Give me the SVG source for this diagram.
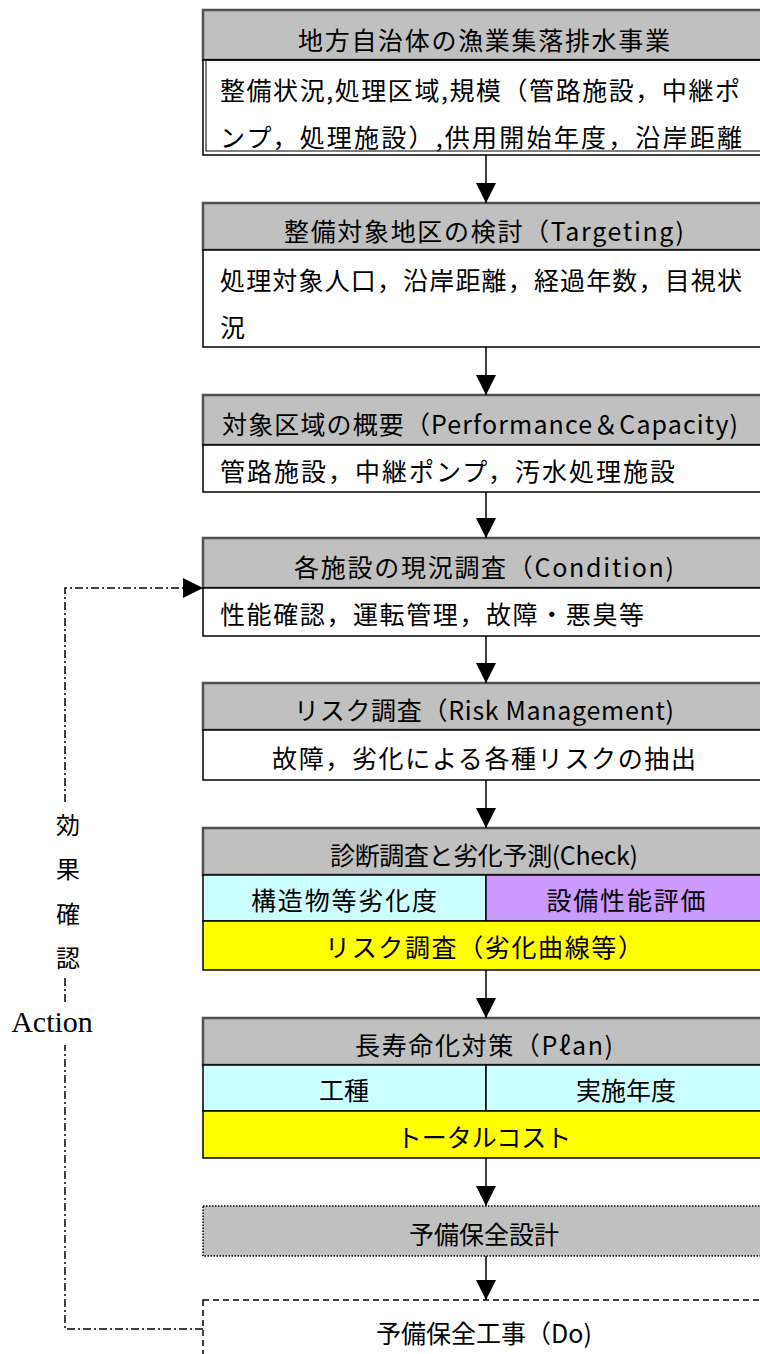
<svg xmlns="http://www.w3.org/2000/svg" width="760" height="1354" viewBox="0 0 760 1354">
<defs>
<style>
.t{font-family:"Noto Sans CJK JP","Noto Sans",sans-serif;font-size:25px;fill:#000;dominant-baseline:central}
.c{text-anchor:middle}
.hd{fill:#c0c0c0;stroke:#505050;stroke-width:2.5}
.bd{fill:#fff;stroke:#000;stroke-width:1.5}
.cy{fill:#ccffff;stroke:#000;stroke-width:1.5}
.pu{fill:#cc99ff;stroke:#000;stroke-width:1.5}
.ye{fill:#ffff00;stroke:#000;stroke-width:1.5}
.ln{stroke:#000;stroke-width:1.5;fill:none}
.fb{stroke:#000;stroke-width:1.5;fill:none;stroke-dasharray:8,3,2,3}
.s{font-family:"Liberation Serif","Noto Sans CJK JP",serif;fill:#000;dominant-baseline:central;text-anchor:middle}
</style>
<marker id="ah" viewBox="0 0 20 20" refX="20" refY="10" markerWidth="20" markerHeight="20" markerUnits="userSpaceOnUse" orient="auto">
<path d="M0,0 L20,10 L0,20 Z" fill="#000"/>
</marker>
</defs>

<g id="n1">
<rect class="hd" x="203" y="10" width="563" height="50"/>
<rect class="bd" x="203" y="60" width="563" height="95"/>
<rect x="206" y="60" width="560" height="91" fill="none" stroke="#000" stroke-width="1"/>
<text class="t c" x="484" y="39" textLength="372">地方自治体の漁業集落排水事業</text>
<text class="t" x="220" y="89" textLength="520">整備状況,処理区域,規模（管路施設，中継ポ</text>
<text class="t" x="220" y="136" textLength="522">ンプ，処理施設）,供用開始年度，沿岸距離</text>
</g>

<g id="n2">
<rect class="hd" x="203" y="203" width="563" height="47"/>
<rect class="bd" x="203" y="250" width="563" height="97"/>
<text class="t c" x="484" y="230" textLength="400">整備対象地区の検討（Targeting)</text>
<text class="t" x="220" y="279" textLength="522">処理対象人口，沿岸距離，経過年数，目視状</text>
<text class="t" x="220" y="326">況</text>
</g>

<g id="n3">
<rect class="hd" x="203" y="395" width="563" height="50"/>
<rect class="bd" x="203" y="445" width="563" height="47"/>
<text class="t" x="222" y="423" textLength="516">対象区域の概要（Performance＆Capacity)</text>
<text class="t" x="220" y="470" textLength="455">管路施設，中継ポンプ，汚水処理施設</text>
</g>

<g id="n4">
<rect class="hd" x="203" y="538" width="563" height="50"/>
<rect class="bd" x="203" y="588" width="563" height="48"/>
<text class="t c" x="484" y="566" textLength="380">各施設の現況調査（Condition)</text>
<text class="t" x="220" y="613" textLength="424">性能確認，運転管理，故障・悪臭等</text>
</g>

<g id="n5">
<rect class="hd" x="203" y="683" width="563" height="47"/>
<rect class="bd" x="203" y="730" width="563" height="50"/>
<text class="t c" x="484" y="709" textLength="380">リスク調査（Risk Management)</text>
<text class="t c" x="484" y="757" textLength="424">故障，劣化による各種リスクの抽出</text>
</g>

<g id="n6">
<rect class="hd" x="203" y="828" width="563" height="47"/>
<rect class="cy" x="203" y="875" width="283" height="46"/>
<rect class="pu" x="486" y="875" width="280" height="46"/>
<rect class="ye" x="203" y="921" width="563" height="49"/>
<text class="t c" x="484" y="854" textLength="308">診断調査と劣化予測(Check)</text>
<text class="t c" x="344" y="899" textLength="186">構造物等劣化度</text>
<text class="t c" x="626" y="899" textLength="159">設備性能評価</text>
<text class="t c" x="484" y="946" textLength="318">リスク調査（劣化曲線等）</text>
</g>

<g id="n7">
<rect class="hd" x="203" y="1018" width="563" height="47"/>
<rect class="cy" x="203" y="1065" width="283" height="46"/>
<rect class="cy" x="486" y="1065" width="280" height="46"/>
<rect class="ye" x="203" y="1111" width="563" height="47"/>
<text class="t c" x="484" y="1044" textLength="258">長寿命化対策（Pℓan)</text>
<text class="t c" x="344" y="1089">工種</text>
<text class="t c" x="626" y="1089">実施年度</text>
<text class="t c" x="484" y="1136">トータルコスト</text>
</g>

<g id="n8">
<rect x="203" y="1206" width="563" height="50" fill="#c0c0c0" stroke="#000" stroke-width="1.5" stroke-dasharray="1.5,1.5"/>
<text class="t c" x="484" y="1233">予備保全設計</text>
</g>

<g id="n9">
<rect x="203" y="1300" width="563" height="70" fill="#fff" stroke="#000" stroke-width="1.5" stroke-dasharray="6,4"/>
<text class="t c" x="484" y="1332">予備保全工事（Do)</text>
</g>

<g id="label">
<text class="s" x="68" y="826" font-size="24">効</text>
<text class="s" x="68" y="870" font-size="24">果</text>
<text class="s" x="68" y="915" font-size="24">確</text>
<text class="s" x="68" y="959" font-size="24">認</text>
<text class="s" x="52" y="1021" font-size="30">Action</text>
</g>

<g id="connectors">
<line class="ln" x1="486" y1="155" x2="486" y2="203" marker-end="url(#ah)"/>
<line class="ln" x1="486" y1="347" x2="486" y2="395" marker-end="url(#ah)"/>
<line class="ln" x1="486" y1="492" x2="486" y2="538" marker-end="url(#ah)"/>
<line class="ln" x1="486" y1="636" x2="486" y2="683" marker-end="url(#ah)"/>
<line class="ln" x1="486" y1="780" x2="486" y2="828" marker-end="url(#ah)"/>
<line class="ln" x1="486" y1="970" x2="486" y2="1018" marker-end="url(#ah)"/>
<line class="ln" x1="486" y1="1158" x2="486" y2="1206" marker-end="url(#ah)"/>
<line class="ln" x1="486" y1="1256" x2="486" y2="1300" marker-end="url(#ah)"/>
<path class="fb" d="M203,1329 H65 V1045"/>
<path class="fb" d="M65,1002 V976"/>
<path class="fb" d="M65,802 V588 H203" marker-end="url(#ah)"/>
</g>
</svg>
